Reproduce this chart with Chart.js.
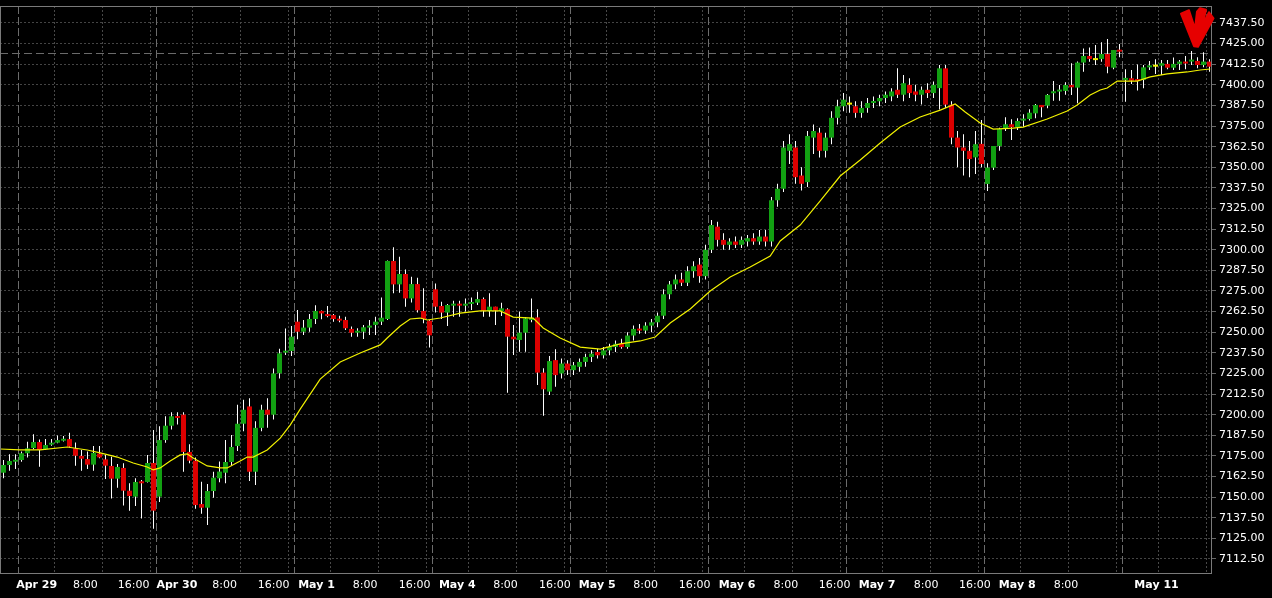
<!DOCTYPE html>
<html>
<head>
<meta charset="utf-8">
<title>Hourly candles Apr 29 - May 11</title>
<script src="https://cdn.jsdelivr.net/npm/chart.js@4.4.1/dist/chart.umd.min.js"></script>
<style>
  html, body { margin: 0; padding: 0; background: #000; }
  canvas { display: block; }
</style>
</head>
<body>
<canvas id="chart" width="1272" height="598"></canvas>
<script>
// hourly bars, 23 per trading day, last 3 hours of Apr 28 up to May 11
const opens = [
  7164.8, 7169.5, 7171.5, 7172.5, 7176.6, 7179.8, 7183.4, 7179.2, 7181.8, 7183.0,
  7184.2, 7185.2, 7179.6, 7175.0, 7173.1, 7169.7, 7176.4, 7172.9, 7168.9, 7161.2,
  7167.7, 7153.9, 7150.3, 7159.4, 7159.2, 7170.7, 7150.3, 7184.6, 7193.3, 7199.0,
  7200.0, 7177.4, 7172.1, 7145.8, 7143.6, 7153.7, 7161.4, 7164.8, 7171.3, 7181.0,
  7194.5, 7205.0, 7165.4, 7192.0, 7203.0, 7200.0, 7225.1, 7237.6, 7238.6, 7256.4,
  7250.3, 7252.8, 7258.0, 7262.9, 7261.0, 7260.4, 7258.0, 7257.4, 7252.0, 7249.7,
  7250.3, 7252.8, 7254.4, 7256.4, 7258.0, 7293.2, 7279.0, 7285.3, 7270.5, 7279.2,
  7262.9, 7257.0, 7276.0, 7265.9, 7261.9, 7266.1, 7267.1, 7266.1, 7267.1, 7267.9,
  7270.1, 7262.9, 7265.5, 7262.9, 7263.9, 7247.3, 7245.3, 7249.7, 7257.4, 7259.0,
  7225.5, 7214.0, 7233.1, 7225, 7231, 7227, 7229, 7232, 7235, 7238,
  7236, 7239, 7241, 7243, 7241, 7248, 7252, 7251, 7254, 7256,
  7260, 7273, 7279, 7282, 7280, 7287, 7291, 7284, 7300, 7314,
  7306, 7303, 7305, 7303, 7305, 7307, 7305, 7308, 7305, 7330,
  7337, 7360, 7362, 7345, 7341, 7368, 7371, 7360, 7368, 7380,
  7387, 7388, 7387, 7383, 7386, 7389, 7390, 7392, 7393, 7397,
  7394, 7400, 7396, 7394, 7397, 7395, 7398, 7410, 7388, 7368,
  7362, 7360, 7356, 7364.2, 7339.9, 7349.8, 7362.9, 7373.7, 7376.1, 7374.3,
  7378.3, 7379.3, 7382.7, 7387.8, 7387.4, 7394.9, 7395.9, 7396.3, 7399.9, 7398.3,
  7413.5, 7417.5, 7415.0, 7415.7, 7418.7, 7410.4, 7421.1, 7403.0, 7404.0, 7403.4,
  7403.0, 7410.6, 7411.0, 7411.6, 7412.7, 7410.4, 7412.7, 7414.1, 7414.1, 7414.5,
  7412.0, 7414.1
];
const highs = [
  7172.5, 7176.0, 7176.0, 7177.6, 7183.6, 7188.1, 7185.0, 7185.2, 7185.2, 7187.3,
  7187.1, 7189.1, 7183.2, 7178.6, 7177.6, 7181.0, 7181.0, 7175.5, 7174.5, 7170.1,
  7170.5, 7158.4, 7161.4, 7160.4, 7175.5, 7190.7, 7193.0, 7199.0, 7201.5, 7201.5,
  7201.5, 7182.0, 7174.0, 7159.4, 7158.0, 7165.4, 7171.6, 7184.6, 7187.7, 7206.0,
  7209.0, 7210.0, 7196.0, 7206.0, 7210.0, 7228.0, 7240.0, 7252.3, 7253.8, 7263.5,
  7257.4, 7261.0, 7266.3, 7263.2, 7265.9, 7261.0, 7260.0, 7259.4, 7253.4, 7252.4,
  7254.4, 7257.4, 7259.4, 7271.1, 7293.5, 7301.5, 7295.8, 7288.1, 7283.7, 7283.0,
  7276.6, 7257.4, 7279.6, 7268.5, 7267.1, 7269.1, 7269.1, 7270.5, 7271.1, 7274.6,
  7271.1, 7273.6, 7265.5, 7267.9, 7264.5, 7254.4, 7262.5, 7259.0, 7270.5, 7263.9,
  7228.1, 7235.6, 7239.6, 7234, 7233, 7232, 7234, 7237, 7239, 7240,
  7241, 7243, 7245, 7246, 7250, 7254, 7255, 7256, 7258, 7262,
  7276, 7281, 7285, 7286, 7290, 7293, 7295, 7303, 7318, 7317,
  7310, 7307, 7308, 7308, 7309, 7310, 7312, 7312, 7332, 7340,
  7366, 7370, 7366, 7350, 7372, 7376, 7374, 7371, 7384, 7391,
  7395, 7393, 7390, 7390, 7392, 7393, 7394, 7396, 7398, 7410,
  7406, 7404, 7400, 7399, 7401, 7402, 7412, 7412, 7390, 7372,
  7370, 7366, 7372, 7378.7, 7352.4, 7362.9, 7374.0, 7380.3, 7379.1, 7379.7,
  7382.1, 7385.2, 7388.4, 7387.8, 7394.5, 7402.3, 7399.9, 7401.5, 7413.1, 7414.1,
  7422.1, 7422.7, 7424.2, 7425.8, 7427.8, 7421.1, 7424.8, 7409.4, 7409.0, 7412.4,
  7412.0, 7414.5, 7415.5, 7415.1, 7415.1, 7416.5, 7415.1, 7417.5, 7420.5, 7416.7,
  7419.7, 7415.5
];
const lows = [
  7161.4, 7166.0, 7167.0, 7171.5, 7174.1, 7179.0, 7168.5, 7178.8, 7181.2, 7182.6,
  7183.8, 7180.0, 7169.1, 7166.0, 7167.0, 7166.0, 7173.6, 7161.0, 7149.1, 7155.7,
  7145.0, 7141.8, 7144.6, 7137.0, 7158.8, 7130.9, 7147.0, 7183.0, 7191.0, 7194.0,
  7165.4, 7170.5, 7143.0, 7140.0, 7133.1, 7149.7, 7159.0, 7158.4, 7169.0, 7178.0,
  7190.0, 7159.8, 7157.4, 7190.0, 7192.0, 7197.0, 7222.0, 7236.2, 7235.6, 7245.7,
  7248.3, 7250.3, 7255.0, 7257.8, 7259.0, 7256.4, 7256.0, 7251.3, 7247.3, 7247.3,
  7245.9, 7248.3, 7248.3, 7254.4, 7257.4, 7273.6, 7274.0, 7265.5, 7268.0, 7262.0,
  7255.4, 7240.8, 7262.0, 7258.0, 7253.8, 7259.4, 7259.4, 7262.5, 7263.5, 7266.5,
  7259.4, 7259.4, 7254.4, 7259.8, 7213.3, 7236.2, 7238.2, 7238.2, 7256.0, 7218.0,
  7199.4, 7212.0, 7217.0, 7222, 7224, 7224, 7226, 7229, 7232, 7234,
  7234, 7236, 7238, 7240, 7240, 7245, 7249, 7249, 7250, 7253,
  7258, 7270, 7276, 7278, 7278, 7283, 7280, 7282, 7298, 7302,
  7300, 7300, 7301, 7301, 7302, 7303, 7303, 7302, 7302, 7326,
  7335, 7352, 7340, 7336, 7338, 7358, 7356, 7356, 7364, 7376,
  7384, 7383, 7380, 7380, 7383, 7386, 7387, 7389, 7390, 7392,
  7390, 7392, 7390, 7388, 7392, 7392, 7385, 7386, 7364, 7350,
  7345, 7344, 7346, 7350.0, 7335.6, 7348.4, 7360.0, 7372.0, 7366.6, 7372.6,
  7374.6, 7378.3, 7379.7, 7380.3, 7385.8, 7390.4, 7390.4, 7394.0, 7393.9, 7388.8,
  7408.0, 7414.0, 7412.0, 7414.0, 7407.0, 7409.4, 7416.7, 7389.8, 7400.5, 7396.5,
  7397.9, 7409.0, 7406.6, 7406.0, 7409.4, 7409.0, 7409.0, 7409.4, 7412.0, 7410.0,
  7410.6, 7408.0
];
const closes = [
  7169.5, 7171.9, 7172.5, 7176.6, 7179.6, 7183.4, 7178.6, 7181.6, 7182.8, 7184.6,
  7185.2, 7180.6, 7175.1, 7173.3, 7169.7, 7176.8, 7174.1, 7169.1, 7161.2, 7168.3,
  7153.9, 7150.7, 7159.2, 7158.4, 7170.7, 7141.8, 7184.6, 7193.3, 7199.0, 7198.0,
  7177.4, 7172.1, 7145.2, 7143.6, 7153.7, 7161.8, 7165.5, 7171.3, 7180.4, 7194.5,
  7203.0, 7165.4, 7192.0, 7203.0, 7200.0, 7225.0, 7237.2, 7238.6, 7247.3, 7250.3,
  7252.8, 7258.0, 7262.9, 7261.4, 7259.8, 7258.0, 7257.0, 7252.4, 7249.7, 7250.3,
  7253.0, 7254.0, 7256.4, 7258.8, 7293.2, 7279.0, 7285.3, 7270.5, 7279.2, 7263.3,
  7258.0, 7248.1, 7265.5, 7261.9, 7266.5, 7267.1, 7266.1, 7267.1, 7268.3, 7270.1,
  7262.9, 7265.5, 7263.1, 7264.5, 7247.3, 7245.7, 7249.7, 7258.4, 7258.4, 7225.5,
  7215.4, 7232.5, 7224.0, 7231, 7227, 7230, 7232, 7235, 7237, 7236,
  7239, 7241, 7243, 7241, 7248, 7252, 7251, 7254, 7256, 7260,
  7273, 7279, 7282, 7280, 7287, 7290, 7284, 7300, 7315, 7306,
  7303, 7305, 7303, 7306, 7307, 7305, 7308, 7305, 7330, 7337,
  7362, 7364, 7344, 7340, 7369, 7372, 7360, 7368, 7380, 7387,
  7391, 7388, 7383, 7386, 7389, 7390, 7392, 7394, 7396, 7394,
  7401, 7395, 7394, 7397, 7395, 7400, 7410, 7388, 7368, 7362,
  7360, 7355, 7364, 7352.0, 7349.8, 7362.9, 7373.2, 7376.1, 7374.3, 7378.1,
  7379.3, 7383.1, 7387.8, 7386.4, 7393.9, 7395.9, 7396.3, 7399.9, 7398.5, 7413.5,
  7417.5, 7415.7, 7415.0, 7418.7, 7411.0, 7421.1, 7420.1, 7404.0, 7402.5, 7402.3,
  7410.6, 7411.4, 7411.0, 7413.1, 7410.4, 7412.7, 7414.1, 7412.9, 7415.1, 7412.0,
  7414.1, 7411.0
];

// yellow moving average at these bar positions
const maIdx = [
  -0.55, 2.78, 6.12, 10.62, 13.95, 16.12, 18.95, 21.62, 23.95, 24.95,
  26.12, 27.78, 29.45, 30.62, 31.62, 33.95, 36.12, 37.28, 39.45, 40.62,
  41.62, 43.95, 46.12, 47.78, 49.45, 52.78, 56.12, 59.45, 62.78, 63.95,
  66.12, 67.78, 69.45, 70.62, 72.78, 76.12, 79.45, 82.78, 84.95, 88.28,
  89.95, 92.78, 96.12, 99.45, 102.78, 106.12, 108.62, 111.12, 114.45, 117.78,
  121.12, 124.45, 127.78, 129.45, 132.78, 136.12, 139.45, 142.78, 146.12, 149.45,
  152.78, 156.12, 158.62, 160.28, 162.78, 164.95, 168.28, 169.95, 173.95, 177.28,
  178.95, 181.12, 182.78, 183.95, 185.62, 188.95, 189.95, 191.12, 193.95, 197.28,
  199.45, 201.12
];
const maVal = [
  7179.2, 7178.6, 7178.6, 7180.4, 7178.6, 7176.8, 7174.3, 7170.7, 7168.3, 7166.5,
  7167.7, 7171.9, 7175.6, 7176.2, 7173.7, 7168.9, 7167.7, 7167.7, 7171.9, 7174.3,
  7174.3, 7178.6, 7185.8, 7193.7, 7203.4, 7221.6, 7231.9, 7237.4, 7242.3, 7246.5,
  7253.8, 7258.0, 7258.6, 7257.4, 7258.6, 7261.6, 7262.9, 7262.9, 7259.2, 7258.6,
  7252.6, 7246.5, 7241.0, 7239.8, 7242.9, 7244.7, 7247.1, 7255.6, 7264.1, 7275.0,
  7283.5, 7289.5, 7296.2, 7305.3, 7315.0, 7329.6, 7344.7, 7354.4, 7364.7, 7374.4,
  7380.5, 7384.7, 7388.4, 7383.5, 7376.9, 7373.2, 7373.8, 7374.4, 7379.3, 7384.1,
  7387.8, 7393.8, 7396.9, 7398.1, 7402.3, 7402.3, 7403.5, 7404.8, 7406.6, 7407.8,
  7409.0, 7409.6
];

// trading days start between bars (period separators)
const dayStarts = [2.5, 25.5, 48.5, 71.5, 94.5, 117.5, 140.5, 163.5, 186.5];

// time axis labels and where they sit (bar positions)
const xTickLabels = [
  "Apr 29", "8:00", "16:00", "Apr 30", "8:00", "16:00", "May 1", "8:00", "16:00",
  "May 4", "8:00", "16:00", "May 5", "8:00", "16:00", "May 6", "8:00", "16:00",
  "May 7", "8:00", "16:00", "May 8", "8:00", "May 11"
];
const xTickPos = [
  5.53, 13.65, 21.7, 28.9, 36.87, 45.03, 52.17, 60.28, 68.53,
  75.62, 83.67, 91.9, 98.95, 107.03, 115.2, 122.28, 130.4, 138.53,
  145.6, 153.78, 161.9, 168.95, 177.08, 192.17
];

const yTicks = [
  7112.5, 7125, 7137.5, 7150, 7162.5, 7175, 7187.5, 7200, 7212.5, 7225,
  7237.5, 7250, 7262.5, 7275, 7287.5, 7300, 7312.5, 7325, 7337.5, 7350,
  7362.5, 7375, 7387.5, 7400, 7412.5, 7425, 7437.5
];

const askPrice = 7419.25;
const arrowAt = [198.75, 7423.1]; // tip of the red marker

const FONT = "'DejaVu Sans', Verdana, sans-serif";
const UP = '#12a012';
const DOWN = '#dc0000';
const DOJI = '#f0f000';

const bodies = opens.map((o, i) => ({ x: i, y: [o, closes[i]] }));
const wicks = lows.map((l, i) => ({ x: i, y: [l, highs[i]] }));
const ma = maIdx.map((x, i) => ({ x: x, y: maVal[i] }));

function candleColor(ctx) {
  const i = ctx.dataIndex;
  if (i === undefined) return UP;
  if (closes[i] > opens[i]) return UP;
  if (closes[i] < opens[i]) return DOWN;
  return DOJI;
}

const terminalLook = {
  id: 'terminalLook',
  beforeDatasetsDraw(chart) {
    const { ctx, chartArea: a, scales: { x, y } } = chart;
    ctx.save();
    ctx.lineWidth = 1;
    // dotted time grid: 6, 14 and 22 bars into every day
    ctx.strokeStyle = '#484848';
    ctx.setLineDash([2, 2]);
    dayStarts.forEach(d => {
      [5.95, 13.95, 21.85].forEach(off => {
        const px = Math.round(x.getPixelForValue(d + off)) + 0.5;
        if (px > a.left && px < a.right) {
          ctx.beginPath();
          ctx.moveTo(px, a.top);
          ctx.lineTo(px, a.bottom);
          ctx.stroke();
        }
      });
    });
    // period separators
    ctx.strokeStyle = '#6c6c6c';
    ctx.setLineDash([8, 3]);
    dayStarts.forEach(d => {
      const px = Math.round(x.getPixelForValue(d)) + 0.5;
      ctx.beginPath();
      ctx.moveTo(px, a.top);
      ctx.lineTo(px, a.bottom);
      ctx.stroke();
    });
    // ask line
    const py = Math.round(y.getPixelForValue(askPrice)) + 0.5;
    ctx.strokeStyle = '#6a6a6a';
    ctx.setLineDash([8, 4]);
    ctx.beginPath();
    ctx.moveTo(a.left, py);
    ctx.lineTo(a.right, py);
    ctx.stroke();
    ctx.restore();
  },
  afterDraw(chart) {
    const { ctx, chartArea: a, scales: { x, y } } = chart;
    ctx.save();
    ctx.strokeStyle = '#7a7a7a';
    ctx.lineWidth = 1;
    ctx.strokeRect(a.left + 0.5, a.top + 0.5, a.right - a.left - 1, a.bottom - a.top);
    // red hand drawn arrow
    const tx = x.getPixelForValue(arrowAt[0]);
    const ty = y.getPixelForValue(arrowAt[1]);
    const shape = [
      [-15, -33], [-7, -36.5], [-1, -18], [1, -35], [4, -38.5],
      [10, -37], [6, -20], [13, -34.5], [17.5, -28.5], [2, 0], [-2, -0.5]
    ];
    ctx.fillStyle = '#e60000';
    ctx.strokeStyle = '#e60000';
    ctx.lineJoin = 'round';
    ctx.lineWidth = 2;
    ctx.beginPath();
    shape.forEach((p, k) => {
      if (k === 0) ctx.moveTo(tx + p[0], ty + p[1]);
      else ctx.lineTo(tx + p[0], ty + p[1]);
    });
    ctx.closePath();
    ctx.fill();
    ctx.stroke();
    ctx.restore();
  }
};

new Chart(document.getElementById('chart'), {
  type: 'bar',
  data: {
    datasets: [
      {
        type: 'line',
        data: ma,
        borderColor: '#f2f200',
        borderWidth: 1.2,
        pointRadius: 0,
        tension: 0,
        order: 0
      },
      {
        data: bodies,
        backgroundColor: candleColor,
        borderWidth: 0,
        grouped: false,
        barThickness: 5,
        maxBarThickness: 5,
        minBarLength: 2,
        inflateAmount: 0,
        order: 1
      },
      {
        data: wicks,
        backgroundColor: '#ffffff',
        borderWidth: 0,
        grouped: false,
        barThickness: 1,
        maxBarThickness: 1,
        inflateAmount: 0,
        order: 2
      }
    ]
  },
  options: {
    responsive: false,
    animation: false,
    devicePixelRatio: 1,
    layout: { padding: { top: 6, left: 0, right: 0, bottom: 0 } },
    plugins: { legend: { display: false }, tooltip: { enabled: false } },
    scales: {
      x: {
        type: 'linear',
        min: -0.5833,
        max: 201.4167,
        offset: false,
        grid: { display: false, drawTicks: false },
        border: { display: false },
        afterBuildTicks: s => { s.ticks = xTickPos.map(v => ({ value: v })); },
        afterFit: s => { s.height = 25; s.paddingLeft = 0; s.paddingRight = 0; },
        ticks: {
          autoSkip: false,
          maxRotation: 0,
          padding: 6,
          color: '#ffffff',
          font: c => ({ family: FONT, size: 11, weight: (xTickLabels[c.index] || '').indexOf(' ') > 0 ? 'bold' : 'normal' }),
          callback: (v, i) => xTickLabels[i]
        }
      },
      y: {
        type: 'linear',
        position: 'right',
        min: 7104.0,
        max: 7447.8,
        afterBuildTicks: s => { s.ticks = yTicks.map(v => ({ value: v })); },
        afterFit: s => { s.width = 60; s.paddingTop = 0; s.paddingBottom = 0; },
        grid: { color: '#444444', lineWidth: 1, drawTicks: true, tickLength: 4, tickColor: '#666666' },
        border: { display: false, dash: [2, 2] },
        ticks: {
          padding: 3,
          color: '#ffffff',
          font: { family: FONT, size: 11 },
          callback: v => v.toFixed(2)
        }
      }
    }
  },
  plugins: [terminalLook]
});
</script>
</body>
</html>
